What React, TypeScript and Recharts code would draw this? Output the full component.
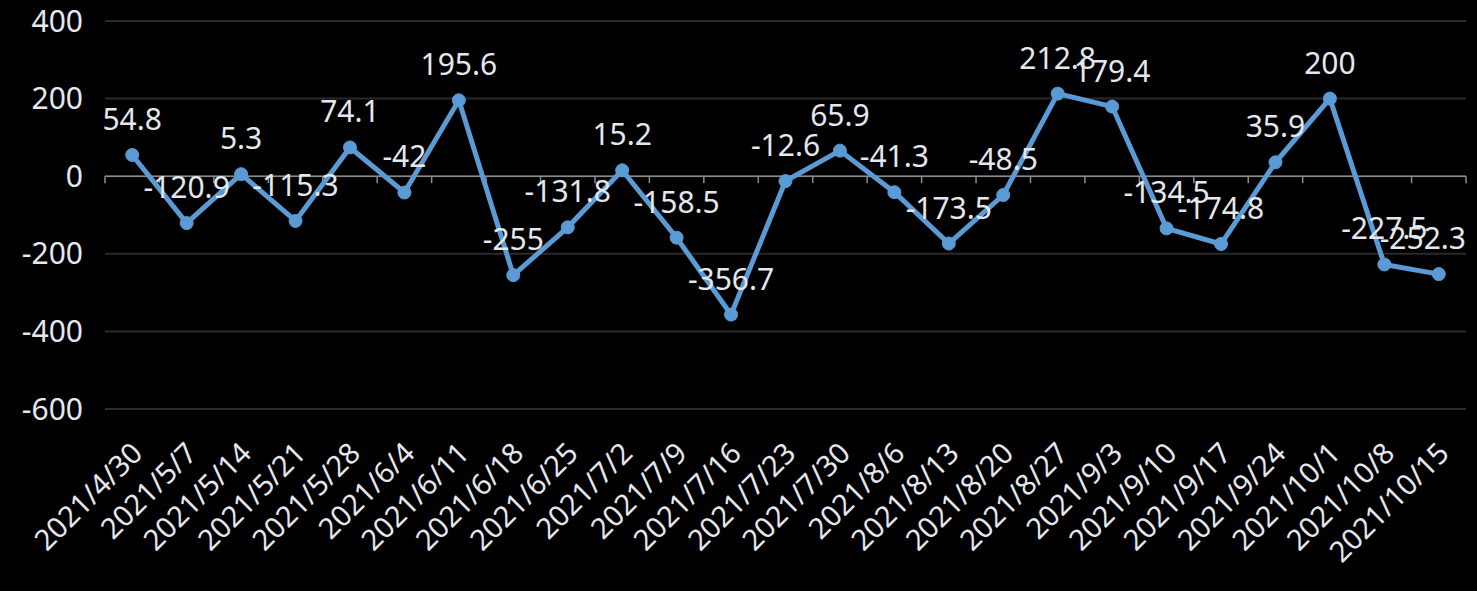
import { CartesianGrid, LabelList, Line, LineChart, ReferenceLine, XAxis, YAxis } from "recharts";

const dates = [
  "2021/4/30", "2021/5/7", "2021/5/14", "2021/5/21", "2021/5/28", "2021/6/4",
  "2021/6/11", "2021/6/18", "2021/6/25", "2021/7/2", "2021/7/9", "2021/7/16",
  "2021/7/23", "2021/7/30", "2021/8/6", "2021/8/13", "2021/8/20", "2021/8/27",
  "2021/9/3", "2021/9/10", "2021/9/17", "2021/9/24", "2021/10/1", "2021/10/8",
  "2021/10/15",
];

const values = [
  54.8, -120.9, 5.3, -115.3, 74.1, -42, 195.6, -255, -131.8, 15.2, -158.5, -356.7,
  -12.6, 65.9, -41.3, -173.5, -48.5, 212.8, 179.4, -134.5, -174.8, 35.9, 200, -227.5,
  -252.3,
];

const yTicks = [-600, -400, -200, 0, 200, 400];

const data = dates.map((date, i) => ({ date, value: values[i] }));

const W = 1477;
const H = 591;
const MARGIN = { top: 21, right: 11, bottom: 0, left: 0 };
const FONT = "'Noto Sans', 'Open Sans', sans-serif";
const TEXT = "#e4e8ee";
const BLUE = "#5B9BD5";
const LABEL_SIZE = 30;

function DateTick({ x, y, payload }: any) {
  return (
    <g transform={`translate(${x + 12},${y + 38})`}>
      <text
        textAnchor="end"
        transform="rotate(-45)"
        fill={TEXT}
        fontSize={29}
        fontFamily={FONT}
      >
        {payload.value}
      </text>
    </g>
  );
}

// rough text width so a label near the right edge is pulled back inside, as Excel does
function textWidth(s: string) {
  let w = 0;
  for (const c of s) w += c === "." ? 0.27 : c === "-" ? 0.32 : 0.572;
  return w * LABEL_SIZE;
}

function ValueLabel({ x, y, value }: any) {
  const s = String(value);
  const half = textWidth(s) / 2;
  const right = W - MARGIN.right;
  const cx = Math.min(x, right - half);
  return (
    <text x={cx} y={y - 25} textAnchor="middle" fill={TEXT} fontSize={LABEL_SIZE} fontFamily={FONT}>
      {s}
    </text>
  );
}

// zero line with small tick marks between categories, like the Excel axis
function ZeroAxis(props: any) {
  const { x1, x2, y1 } = props;
  const step = (x2 - x1) / dates.length;
  const marks = [];
  for (let i = 0; i <= dates.length; i++) {
    const x = x1 + i * step;
    marks.push(<line key={i} x1={x} x2={x} y1={y1} y2={y1 + 7} stroke="#8c8c8c" strokeWidth={1.5} />);
  }
  return (
    <g>
      <line x1={x1} x2={x2} y1={y1} y2={y1} stroke="#8c8c8c" strokeWidth={1.5} />
      {marks}
    </g>
  );
}

export default function App() {
  return (
    <div style={{ position: "absolute", left: 0, top: 0, width: W, height: H, background: "#000" }}>
      <LineChart width={W} height={H} data={data} margin={MARGIN}>
        <CartesianGrid stroke="#2a2a2a" strokeWidth={2} vertical={false} />
        <XAxis
          dataKey="date"
          scale="band"
          axisLine={false}
          tickLine={false}
          interval={0}
          height={182}
          tick={<DateTick />}
        />
        <YAxis
          domain={[-600, 400]}
          ticks={yTicks}
          width={105}
          axisLine={false}
          tickLine={false}
          tickMargin={16}
          tick={{ fontSize: 30, fill: TEXT, fontFamily: FONT }}
        />
        <ReferenceLine y={0} shape={<ZeroAxis />} />
        <Line
          type="linear"
          dataKey="value"
          stroke={BLUE}
          strokeWidth={5}
          dot={{ r: 6.5, fill: BLUE, stroke: BLUE, strokeWidth: 1 }}
          activeDot={false}
          isAnimationActive={false}
        >
          <LabelList dataKey="value" content={<ValueLabel />} />
        </Line>
      </LineChart>
    </div>
  );
}
